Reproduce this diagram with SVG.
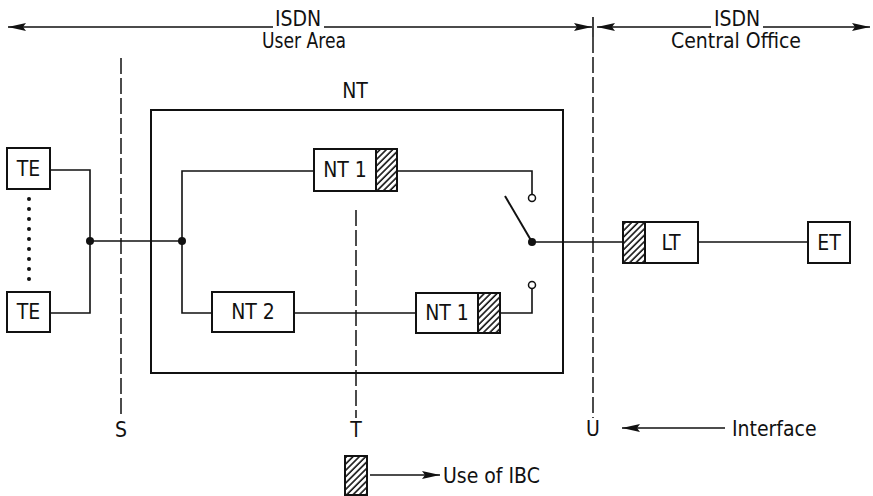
<svg xmlns="http://www.w3.org/2000/svg" width="873" height="496" viewBox="0 0 873 496">
<style>
.t{font-family:"DejaVu Sans Condensed","DejaVu Sans",sans-serif;font-size:21px;fill:#111}
.m{text-anchor:middle}
.box{fill:#fff;stroke:#111;stroke-width:2}
.hat{fill:url(#hatch);stroke:#111;stroke-width:2}
.ln{fill:none;stroke:#111;stroke-width:1.6}
.dash{fill:none;stroke:#111;stroke-width:1.5;stroke-dasharray:16 4}
.dot{fill:#111}
.open{fill:#fff;stroke:#111;stroke-width:1.5}
</style>
<defs>
<pattern id="hatch" patternUnits="userSpaceOnUse" width="4.5" height="4.5" patternTransform="rotate(45)">
<rect width="4.5" height="4.5" fill="#fff"/>
<line x1="1" y1="0" x2="1" y2="4.5" stroke="#111" stroke-width="1.6"/>
</pattern>
<marker id="ah" viewBox="0 0 18 8" refX="18" refY="4" markerWidth="18" markerHeight="8" markerUnits="userSpaceOnUse" orient="auto-start-reverse">
<path d="M0,0 L18,4 L0,8 L3,4 z" fill="#111"/>
</marker>
</defs>

<g id="scope">
<path class="ln" d="M8,27 H273 M324,27 H592" marker-start="url(#ah)" marker-end="url(#ah)"/>
<path class="ln" d="M597,27 H711 M763,27 H870" marker-start="url(#ah)" marker-end="url(#ah)"/>
<text class="t m" x="298" y="26">ISDN</text>
<text class="t m" x="304" y="48" textLength="84" lengthAdjust="spacingAndGlyphs">User Area</text>
<text class="t m" x="737" y="26">ISDN</text>
<text class="t m" x="736" y="48" textLength="130" lengthAdjust="spacingAndGlyphs">Central Office</text>
</g>

<g id="interfaces">
<line class="dash" x1="121" y1="58" x2="121" y2="418"/>
<line class="dash" x1="356" y1="210" x2="356" y2="418"/>
<line class="ln" x1="593" y1="17" x2="593" y2="37"/>
<line class="dash" x1="593" y1="37" x2="593" y2="418"/>
<text class="t m" x="121" y="437">S</text>
<text class="t m" x="356" y="437">T</text>
<text class="t m" x="593" y="436">U</text>
</g>

<g id="NT">
<rect x="151" y="110" width="412" height="263" fill="none" stroke="#111" stroke-width="2"/>
<text class="t m" x="355" y="98">NT</text>
</g>

<g id="TE1"><rect class="box" x="7" y="148" width="43" height="41"/><text class="t m" x="28.5" y="176">TE</text></g>
<g id="TE2"><rect class="box" x="7" y="292" width="43" height="40"/><text class="t m" x="28.5" y="319">TE</text></g>
<g id="TEdots">
<circle class="dot" cx="29" cy="199" r="2"/><circle class="dot" cx="29" cy="209" r="2"/><circle class="dot" cx="29" cy="219" r="2"/>
<circle class="dot" cx="29" cy="229" r="2"/><circle class="dot" cx="29" cy="239" r="2"/><circle class="dot" cx="29" cy="249" r="2"/>
<circle class="dot" cx="29" cy="259" r="2"/><circle class="dot" cx="29" cy="269" r="2"/><circle class="dot" cx="29" cy="279" r="2"/>
</g>

<g id="NT1top"><rect class="box" x="314" y="149" width="83" height="42"/><rect class="hat" x="376" y="149" width="21" height="42"/><text class="t m" x="345" y="177">NT 1</text></g>
<g id="NT2"><rect class="box" x="212" y="292" width="82" height="40"/><text class="t m" x="253" y="319">NT 2</text></g>
<g id="NT1bottom"><rect class="box" x="416" y="293" width="84" height="40"/><rect class="hat" x="478" y="293" width="22" height="40"/><text class="t m" x="447" y="320">NT 1</text></g>
<g id="LT"><rect class="box" x="623" y="222" width="75" height="41"/><rect class="hat" x="623" y="222" width="22" height="41"/><text class="t m" x="671" y="250">LT</text></g>
<g id="ET"><rect class="box" x="808" y="222" width="42" height="41"/><text class="t m" x="829" y="250">ET</text></g>

<g id="connectors">
<path class="ln" d="M50,170 H90 V313 H50"/>
<path class="ln" d="M90,241 H182"/>
<path class="ln" d="M314,171 H182 V313 H212"/>
<path class="ln" d="M294,313 H416"/>
<path class="ln" d="M397,171 H532 V194.5"/>
<path class="ln" d="M500,313 H532 V288.5"/>
<path class="ln" d="M505,196 L532,242" style="stroke-width:2"/>
<path class="ln" d="M532,242 H623"/>
<path class="ln" d="M698,242 H808"/>
<circle class="dot" cx="90" cy="241" r="4"/>
<circle class="dot" cx="182" cy="241" r="4"/>
<circle class="dot" cx="532" cy="242" r="4"/>
<circle class="open" cx="532" cy="198" r="3.5"/>
<circle class="open" cx="532" cy="285" r="3.5"/>
</g>

<g id="legend">
<path class="ln" d="M725,428 H622" marker-end="url(#ah)"/>
<text class="t" x="732" y="436">Interface</text>
<rect class="hat" x="345" y="456" width="22" height="39"/>
<path class="ln" d="M370,475 H440" marker-end="url(#ah)"/>
<text class="t" x="443" y="483">Use of IBC</text>
</g>
</svg>
